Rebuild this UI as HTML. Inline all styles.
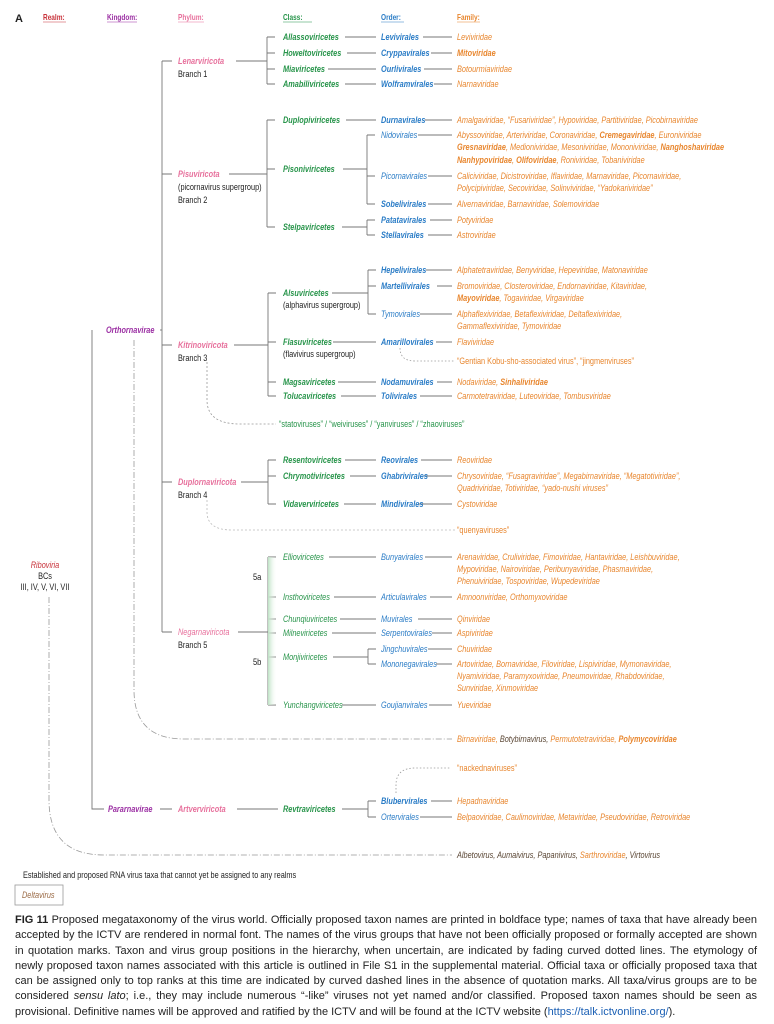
<!DOCTYPE html>
<html><head><meta charset="utf-8"><style>
body{margin:0;background:#fff;width:774px;height:1024px;overflow:hidden;position:relative}
svg{position:absolute;left:0;top:0}
svg text{font-family:"Liberation Sans Narrow","Liberation Sans",sans-serif;font-size:8.8px;font-style:italic}
svg .h{font-style:normal;font-weight:bold;font-size:7.8px}
svg .b{font-weight:bold}
svg .n,svg .n text{font-style:normal;fill:#222}
svg .re{fill:#c8323a}svg .ki{fill:#9b2fa3}svg .ph{fill:#e7709c}svg .cl{fill:#27944a}svg .or{fill:#2a7cc6}svg .fa{fill:#e8862e}svg .dk{fill:#5a4634}
svg .q{font-style:normal}
#cap{position:absolute;left:15px;top:913px;width:742px;font-family:"Liberation Sans",sans-serif;font-size:11px;line-height:15.3px;color:#222;text-align:justify}
</style></head><body>
<svg width="774" height="1024" viewBox="0 0 774 1024">
<defs><linearGradient id="g" x1="0" x2="1"><stop offset="0" stop-color="#bfe3c6"/><stop offset="1" stop-color="#fff" stop-opacity="0"/></linearGradient></defs>
<g stroke="#777" stroke-width="0.9" fill="none">
<line x1="43" y1="22" x2="66" y2="22" stroke="#c8323a" stroke-width="0.6"/>
<line x1="107" y1="22" x2="137" y2="22" stroke="#9b2fa3" stroke-width="0.6"/>
<line x1="178" y1="22" x2="204" y2="22" stroke="#e7709c" stroke-width="0.6"/>
<line x1="283" y1="22" x2="312" y2="22" stroke="#27944a" stroke-width="0.6"/>
<line x1="381" y1="22" x2="404" y2="22" stroke="#2a7cc6" stroke-width="0.6"/>
<line x1="457" y1="22" x2="480" y2="22" stroke="#e8862e" stroke-width="0.6"/>
<path d="M92 330V809H104"/>
<line x1="160" y1="330" x2="162" y2="330"/>
<path d="M162 61V632"/>
<path d="M162 61H172M162 174H172M162 345H172M162 482H172M162 632H172"/>
<path d="M236 61H267M267 37V84M267 37H275M267 53H275M267 69H275M267 84H275"/>
<path d="M345 37H376M347 53H376M328 69H376M345 84H376"/>
<path d="M423 37H452M431 53H452M424 69H452M434 84H452"/>
<path d="M229 174H267M267 120V227M267 120H275M267 169H275M267 227H275"/>
<path d="M346 120H376M343 169H367M367 135V204M367 135H375M367 176H375M367 204H375M342 227H367M367 220V235M367 220H375M367 235H375"/>
<path d="M425 120H452M418 135H452M428 176H452M428 204H452M430 220H452M428 235H452"/>
<path d="M234 345H268M268 293V396M268 293H276M268 342H276M268 382H276M268 396H276"/>
<path d="M332 293H368M368 270V314M368 270H376M368 286H376M368 314H376M333 342H376M338 382H376M341 396H376"/>
<path d="M426 270H452M437 286H452M420 314H452M436 342H452M437 382H452M420 396H452"/>
<path d="M241 482H268M268 460V504M268 460H276M268 476H276M268 504H276"/>
<path d="M345 460H376M350 476H376M344 504H376M421 460H452M424 476H452M418 504H452"/>
<path d="M238 632H268M268 557V705M268 557H276M268 597H276M268 619H276M268 633H276M268 657H276M268 705H276"/>
<path d="M329 557H376M334 597H376M340 619H376M332 633H376M333 657H368M368 649V664M368 649H376M368 664H376M342 705H376"/>
<path d="M425 557H452M430 597H452M418 619H452M432 633H452M428 649H452M436 664H452M429 705H452"/>
<path d="M160 809H172M237 809H278M342 809H368M368 801V817M368 801H376M368 817H376M431 801H452M420 817H452"/>
</g>
<rect x="268" y="557" width="9" height="148" fill="url(#g)"/>
<g fill="none" stroke="#999" stroke-width="0.8">
<path d="M207 362V400Q207 424 240 424H276" stroke-dasharray="2,2"/>
<path d="M207 500V512Q207 530 232 530H455" stroke-dasharray="2,2" stroke="#bbb"/>
<path d="M400 348Q400 361 415 361H455" stroke-dasharray="1.5,2"/>
<path d="M134 340V690Q134 739 184 739H452" stroke-dasharray="6,2,1,2"/>
<path d="M49 597V800Q49 855 104 855H452" stroke-dasharray="6,2,1,2"/>
<path d="M396 793V785Q396 768 415 768H450" stroke-dasharray="1.5,2"/>
</g>
<rect x="15" y="885" width="48" height="20" fill="none" stroke="#999" stroke-width="0.8"/>
<text x="15" y="22" class="h n" style="font-size:11px">A</text>
<g transform="matrix(0.835 0 0 1 0 0)">
<text x="51.5" y="20" class="h re">Realm:</text>
<text x="128.1" y="20" class="h ki">Kingdom:</text>
<text x="213.2" y="20" class="h ph">Phylum:</text>
<text x="338.9" y="20" class="h cl">Class:</text>
<text x="456.3" y="20" class="h or">Order:</text>
<text x="547.3" y="20" class="h fa">Family:</text>

<text x="53.9" y="568" class="re" text-anchor="middle">Riboviria</text>
<text x="53.9" y="579" class="n" text-anchor="middle">BCs</text>
<text x="53.9" y="590" class="n" text-anchor="middle">III, IV, V, VI, VII</text>
<text x="126.9" y="333" class="ki b">Orthornavirae</text>
<text x="129.3" y="812" class="ki b">Pararnavirae</text>

<g class="ph">
<text x="213.2" y="64" class="b">Lenarviricota</text>
<text x="213.2" y="177" class="b">Pisuviricota</text>
<text x="213.2" y="348" class="b">Kitrinoviricota</text>
<text x="213.2" y="485" class="b">Duplornaviricota</text>
<text x="213.2" y="635">Negarnaviricota</text>
<text x="213.2" y="812" class="b">Artverviricota</text>
</g>
<g class="n">
<text x="213.2" y="77">Branch 1</text>
<text x="213.2" y="190">(picornavirus supergroup)</text>
<text x="213.2" y="203">Branch 2</text>
<text x="213.2" y="361">Branch 3</text>
<text x="213.2" y="498">Branch 4</text>
<text x="213.2" y="648">Branch 5</text>
<text x="338.9" y="308">(alphavirus supergroup)</text>
<text x="338.9" y="357">(flavivirus supergroup)</text>
<text x="303" y="580" style="font-size:9px">5a</text>
<text x="303" y="665" style="font-size:9px">5b</text>
<text x="27.5" y="878" style="font-size:8.8px">Established and proposed RNA virus taxa that cannot yet be assigned to any realms</text>
</g>
<text x="26.3" y="898" style="fill:#9a6a45">Deltavirus</text>

<g class="cl">
<text x="338.9" y="40" class="b">Allassoviricetes</text>
<text x="338.9" y="56" class="b">Howeltoviricetes</text>
<text x="338.9" y="72" class="b">Miaviricetes</text>
<text x="338.9" y="87" class="b">Amabiliviricetes</text>
<text x="338.9" y="123" class="b">Duplopiviricetes</text>
<text x="338.9" y="172" class="b">Pisoniviricetes</text>
<text x="338.9" y="230" class="b">Stelpaviricetes</text>
<text x="338.9" y="296" class="b">Alsuviricetes</text>
<text x="338.9" y="345" class="b">Flasuviricetes</text>
<text x="338.9" y="385" class="b">Magsaviricetes</text>
<text x="338.9" y="399" class="b">Tolucaviricetes</text>
<text x="334.1" y="427" class="q">“statoviruses” / “weiviruses” / “yanviruses” / “zhaoviruses”</text>
<text x="338.9" y="463" class="b">Resentoviricetes</text>
<text x="338.9" y="479" class="b">Chrymotiviricetes</text>
<text x="338.9" y="507" class="b">Vidaverviricetes</text>
<text x="338.9" y="560">Ellioviricetes</text>
<text x="338.9" y="600">Insthoviricetes</text>
<text x="338.9" y="622">Chunqiuviricetes</text>
<text x="338.9" y="636">Milneviricetes</text>
<text x="338.9" y="660">Monjiviricetes</text>
<text x="338.9" y="708">Yunchangviricetes</text>
<text x="338.9" y="812" class="b">Revtraviricetes</text>
</g>
<g class="or">
<text x="456.3" y="40" class="b">Levivirales</text>
<text x="456.3" y="56" class="b">Cryppavirales</text>
<text x="456.3" y="72" class="b">Ourlivirales</text>
<text x="456.3" y="87" class="b">Wolframvirales</text>
<text x="456.3" y="123" class="b">Durnavirales</text>
<text x="456.3" y="138">Nidovirales</text>
<text x="456.3" y="179">Picornavirales</text>
<text x="456.3" y="207" class="b">Sobelivirales</text>
<text x="456.3" y="223" class="b">Patatavirales</text>
<text x="456.3" y="238" class="b">Stellavirales</text>
<text x="456.3" y="273" class="b">Hepelivirales</text>
<text x="456.3" y="289" class="b">Martellivirales</text>
<text x="456.3" y="317">Tymovirales</text>
<text x="456.3" y="345" class="b">Amarillovirales</text>
<text x="456.3" y="385" class="b">Nodamuvirales</text>
<text x="456.3" y="399" class="b">Tolivirales</text>
<text x="456.3" y="463" class="b">Reovirales</text>
<text x="456.3" y="479" class="b">Ghabrivirales</text>
<text x="456.3" y="507" class="b">Mindivirales</text>
<text x="456.3" y="560">Bunyavirales</text>
<text x="456.3" y="600">Articulavirales</text>
<text x="456.3" y="622">Muvirales</text>
<text x="456.3" y="636">Serpentovirales</text>
<text x="456.3" y="652">Jingchuvirales</text>
<text x="456.3" y="667">Mononegavirales</text>
<text x="456.3" y="708">Goujianvirales</text>
<text x="456.3" y="804" class="b">Blubervirales</text>
<text x="456.3" y="820">Ortervirales</text>
</g>
<g class="fa">
<text x="547.3" y="40">Leviviridae</text>
<text x="547.3" y="56" class="b">Mitoviridae</text>
<text x="547.3" y="72">Botourmiaviridae</text>
<text x="547.3" y="87">Narnaviridae</text>
<text x="547.3" y="123">Amalgaviridae, “Fusariviridae”, Hypoviridae, Partitiviridae, Picobirnaviridae</text>
<text x="547.3" y="138">Abyssoviridae, Arteriviridae, Coronaviridae, <tspan class="b">Cremegaviridae</tspan>, Euroniviridae</text>
<text x="547.3" y="150"><tspan class="b">Gresnaviridae</tspan>, Medioniviridae, Mesoniviridae, Mononiviridae, <tspan class="b">Nanghoshaviridae</tspan></text>
<text x="547.3" y="163"><tspan class="b">Nanhypoviridae</tspan>, <tspan class="b">Olifoviridae</tspan>, Roniviridae, Tobaniviridae</text>
<text x="547.3" y="179">Caliciviridae, Dicistroviridae, Iflaviridae, Marnaviridae, Picornaviridae,</text>
<text x="547.3" y="191">Polycipiviridae, Secoviridae, Solinviviridae, “Yadokariviridae”</text>
<text x="547.3" y="207">Alvernaviridae, Barnaviridae, Solemoviridae</text>
<text x="547.3" y="223">Potyviridae</text>
<text x="547.3" y="238">Astroviridae</text>
<text x="547.3" y="273">Alphatetraviridae, Benyviridae, Hepeviridae, Matonaviridae</text>
<text x="547.3" y="289">Bromoviridae, Closteroviridae, Endornaviridae, Kitaviridae,</text>
<text x="547.3" y="301"><tspan class="b">Mayoviridae</tspan>, Togaviridae, Virgaviridae</text>
<text x="547.3" y="317">Alphaflexiviridae, Betaflexiviridae, Deltaflexiviridae,</text>
<text x="547.3" y="329">Gammaflexiviridae, Tymoviridae</text>
<text x="547.3" y="345">Flaviviridae</text>
<text x="547.3" y="364" class="q">“Gentian Kobu-sho-associated virus”, “jingmenviruses”</text>
<text x="547.3" y="385">Nodaviridae, <tspan class="b">Sinhaliviridae</tspan></text>
<text x="547.3" y="399">Carmotetraviridae, Luteoviridae, Tombusviridae</text>
<text x="547.3" y="463">Reoviridae</text>
<text x="547.3" y="479">Chrysoviridae, “Fusagraviridae”, Megabirnaviridae, “Megatotiviridae”,</text>
<text x="547.3" y="491">Quadriviridae, Totiviridae, “yado-nushi viruses”</text>
<text x="547.3" y="507">Cystoviridae</text>
<text x="547.3" y="533" class="q">“quenyaviruses”</text>
<text x="547.3" y="560">Arenaviridae, Cruliviridae, Fimoviridae, Hantaviridae, Leishbuviridae,</text>
<text x="547.3" y="572">Mypoviridae, Nairoviridae, Peribunyaviridae, Phasmaviridae,</text>
<text x="547.3" y="584">Phenuiviridae, Tospoviridae, Wupedeviridae</text>
<text x="547.3" y="600">Amnoonviridae, Orthomyxoviridae</text>
<text x="547.3" y="622">Qinviridae</text>
<text x="547.3" y="636">Aspiviridae</text>
<text x="547.3" y="652">Chuviridae</text>
<text x="547.3" y="667">Artoviridae, Bornaviridae, Filoviridae, Lispiviridae, Mymonaviridae,</text>
<text x="547.3" y="679">Nyamiviridae, Paramyxoviridae, Pneumoviridae, Rhabdoviridae,</text>
<text x="547.3" y="691">Sunviridae, Xinmoviridae</text>
<text x="547.3" y="708">Yueviridae</text>
<text x="547.3" y="742">Birnaviridae, <tspan class="dk">Botybirnavirus, </tspan>Permutotetraviridae, <tspan class="b">Polymycoviridae</tspan></text>
<text x="547.3" y="771" class="q">“nackednaviruses”</text>
<text x="547.3" y="804">Hepadnaviridae</text>
<text x="547.3" y="820">Belpaoviridae, Caulimoviridae, Metaviridae, Pseudoviridae, Retroviridae</text>
<text x="547.3" y="858"><tspan class="dk">Albetovirus, Aumaivirus, Papanivirus, </tspan>Sarthroviridae<tspan class="dk">, Virtovirus</tspan></text>
</g>
</g>
</svg>
<div id="cap"><b>FIG 11</b> Proposed megataxonomy of the virus world. Officially proposed taxon names are printed in boldface type; names of taxa that have already been accepted by the ICTV are rendered in normal font. The names of the virus groups that have not been officially proposed or formally accepted are shown in quotation marks. Taxon and virus group positions in the hierarchy, when uncertain, are indicated by fading curved dotted lines. The etymology of newly proposed taxon names associated with this article is outlined in File S1 in the supplemental material. Official taxa or officially proposed taxa that can be assigned only to top ranks at this time are indicated by curved dashed lines in the absence of quotation marks. All taxa/virus groups are to be considered <i>sensu lato</i>; i.e., they may include numerous “-like” viruses not yet named and/or classified. Proposed taxon names should be seen as provisional. Definitive names will be approved and ratified by the ICTV and will be found at the ICTV website (<span style="color:#1a5fb4">https://talk.ictvonline.org/</span>).</div>
</body></html>
